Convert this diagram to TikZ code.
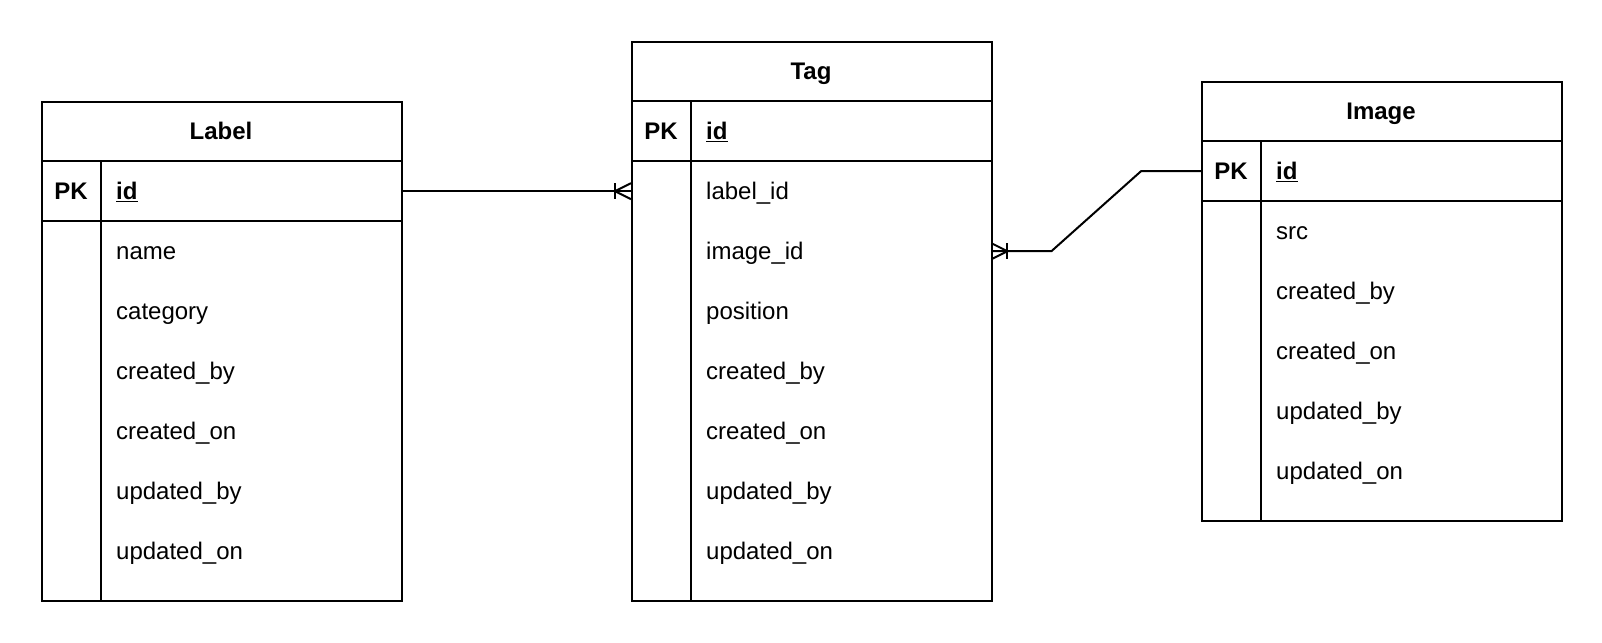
\documentclass[tikz,border=0pt]{standalone}
\usepackage{fontspec}
\setmainfont{Liberation Sans}
\usetikzlibrary{calc}
\tikzset{
  tbl/.style={draw, line width=2pt, anchor=north west, inner sep=0pt, minimum width=360pt},
  rowbox/.style={anchor=north west, inner sep=0pt, minimum width=360pt, minimum height=60pt},
  fld/.style={anchor=base west, inner sep=0pt, yshift=-8.4pt, font=\fontsize{24}{28}\selectfont},
  pk/.style={anchor=base, inner sep=0pt, yshift=-8.4pt, font=\fontsize{24}{28}\selectfont\bfseries},
  ttl/.style={anchor=base, inner sep=0pt, yshift=-8.4pt, font=\fontsize{24}{28}\selectfont\bfseries},
  sep/.style={line width=2pt},
  conn/.style={line width=2pt},
}
\newcommand{\uid}{\underline{id}}
\begin{document}
\begin{tikzpicture}[x=1pt,y=-1pt]
\useasboundingbox (0,0) rectangle (1602,642);
% ---------- Label ----------
\node[tbl, minimum height=499pt] (L) at (41,101) {};
\node[ttl] (Lt) at (221,131) {Label};
\draw[sep] (41,161) -- (401,161);
\draw[sep] (41,221) -- (401,221);
\draw[sep] (101,161) -- (101,600);
\node[rowbox] (Lid) at (41,161) {};
\node[pk] (Lpk) at (71,191) {PK};
\node[fld, font=\fontsize{24}{28}\selectfont\bfseries] (Lidt) at (116,191) {\uid};
\node[fld] (Lf1) at (116,251) {name};
\node[fld] (Lf2) at (116,311) {category};
\node[fld] (Lf3) at (116,371) {created\_by};
\node[fld] (Lf4) at (116,431) {created\_on};
\node[fld] (Lf5) at (116,491) {updated\_by};
\node[fld] (Lf6) at (116,551) {updated\_on};
% ---------- Tag ----------
\node[tbl, minimum height=559pt] (T) at (631,41) {};
\node[ttl] (Tt) at (811,71) {Tag};
\draw[sep] (631,101) -- (991,101);
\draw[sep] (631,161) -- (991,161);
\draw[sep] (691,101) -- (691,600);
\node[pk] (Tpk) at (661,131) {PK};
\node[fld, font=\fontsize{24}{28}\selectfont\bfseries] (Tidt) at (706,131) {\uid};
\node[rowbox] (Tlabel) at (631,161) {};
\node[rowbox] (Timage) at (631,221) {};
\node[fld] (Tf1) at (706,191) {label\_id};
\node[fld] (Tf2) at (706,251) {image\_id};
\node[fld] (Tf3) at (706,311) {position};
\node[fld] (Tf4) at (706,371) {created\_by};
\node[fld] (Tf5) at (706,431) {created\_on};
\node[fld] (Tf6) at (706,491) {updated\_by};
\node[fld] (Tf7) at (706,551) {updated\_on};
% ---------- Image ----------
\node[tbl, minimum height=439pt] (I) at (1201,81) {};
\node[ttl] (It) at (1381,111) {Image};
\draw[sep] (1201,141) -- (1561,141);
\draw[sep] (1201,201) -- (1561,201);
\draw[sep] (1261,141) -- (1261,520);
\node[rowbox] (Iid) at (1201,141) {};
\node[pk] (Ipk) at (1231,171) {PK};
\node[fld, font=\fontsize{24}{28}\selectfont\bfseries] (Iidt) at (1276,171) {\uid};
\node[fld] (If1) at (1276,231) {src};
\node[fld] (If2) at (1276,291) {created\_by};
\node[fld] (If3) at (1276,351) {created\_on};
\node[fld] (If4) at (1276,411) {updated\_by};
\node[fld] (If5) at (1276,471) {updated\_on};
% ---------- Connectors ----------
\draw[conn] (Lid.east) -- (Tlabel.west);
\draw[conn] ($(Tlabel.west)+(-16,-8)$) -- ++(0,16);
\draw[conn] ($(Tlabel.west)+(0,-8)$) -- ($(Tlabel.west)+(-16,0)$) -- ($(Tlabel.west)+(0,8)$);
\draw[conn] (Timage.east) -- ($(Timage.east)+(60,0)$) -- ($(Iid.west)+(-60,0)$) -- (Iid.west);
\draw[conn] ($(Timage.east)+(16,-8)$) -- ++(0,16);
\draw[conn] ($(Timage.east)+(0,-8)$) -- ($(Timage.east)+(16,0)$) -- ($(Timage.east)+(0,8)$);
\end{tikzpicture}
\end{document}
